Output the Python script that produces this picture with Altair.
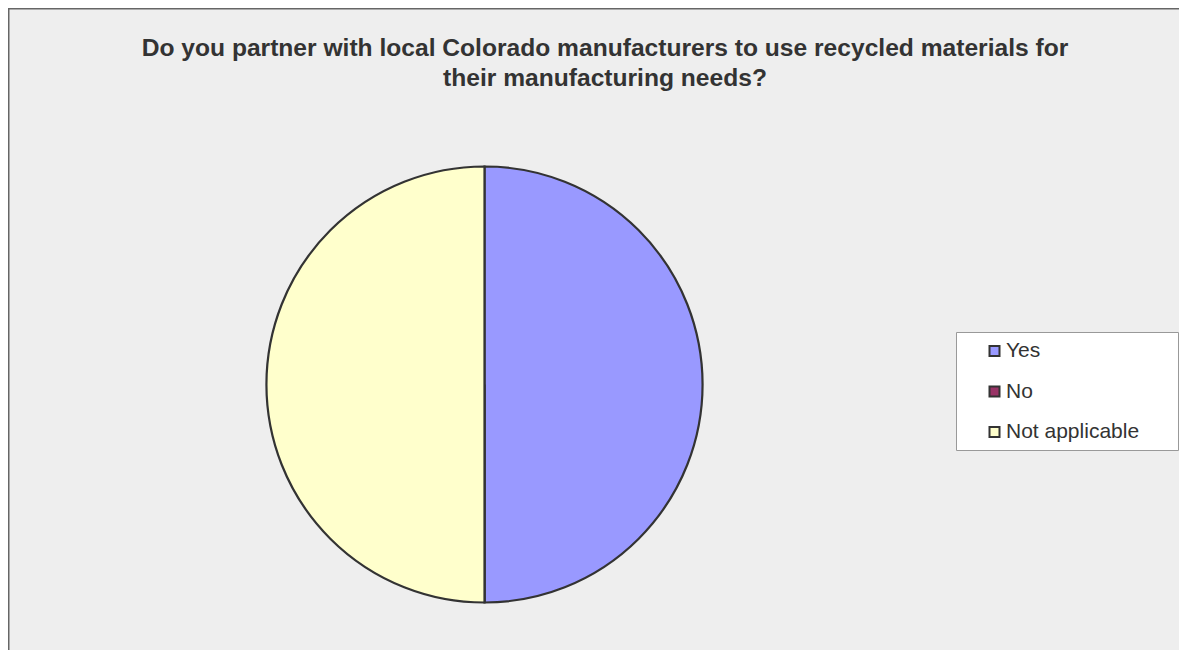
import altair as alt
import pandas as pd

categories = ["Yes", "No", "Not applicable"]
values = [50, 0, 50]
colors = ["#9999FF", "#993366", "#FFFFCC"]
title_lines = [
    "Do you partner with local Colorado manufacturers to use recycled materials for",
    "their manufacturing needs?",
]

df = pd.DataFrame({"category": categories, "value": values, "order": list(range(len(categories)))})
one = pd.DataFrame({"k": [0]})

frame = alt.Chart(one).mark_rect(fill="#EEEEEE", stroke="#666666", strokeWidth=1.5).encode(
    x=alt.value(0.75), y=alt.value(0.75), x2=alt.value(1600), y2=alt.value(1200)
)

legend_box = alt.Chart(one).mark_rect(fill="#FFFFFF", stroke="#999999", strokeWidth=1).encode(
    x=alt.value(948.5), y=alt.value(324.5), x2=alt.value(1170.5), y2=alt.value(442.5)
)

pie = alt.Chart(df).mark_arc(stroke="#333333", strokeWidth=2.2, radius=218).encode(
    theta=alt.Theta("value:Q", stack=True),
    order=alt.Order("order:Q"),
    color=alt.Color(
        "category:N",
        sort=categories,
        scale=alt.Scale(domain=categories, range=colors),
        legend=alt.Legend(
            title=None,
            orient="none",
            legendX=976,
            legendY=332.5,
            padding=0,
            symbolType="square",
            symbolSize=100,
            symbolStrokeColor="#333333",
            symbolStrokeWidth=2,
            symbolOpacity=1,
            labelFont="Liberation Sans",
            labelFontSize=21,
            labelColor="#333333",
            labelOffset=1,
            rowPadding=18.5,
        ),
    ),
    x=alt.value(476.5),
    y=alt.value(376.5),
)

title = alt.Chart(pd.DataFrame({"t": ["\n".join(title_lines)]})).mark_text(
    font="Liberation Sans",
    fontSize=24.6,
    fontWeight="bold",
    color="#333333",
    lineBreak="\n",
    lineHeight=29.5,
    align="center",
    baseline="alphabetic",
).encode(text="t:N", x=alt.value(597), y=alt.value(48))

chart = (
    alt.layer(frame, legend_box, pie, title)
    .properties(width=1171, height=642, autosize=alt.AutoSizeParams(type="none"), padding=0)
    .configure_view(stroke="transparent")
    .configure(background="#EEEEEE")
)

chart.save("out.html", embed_options={"renderer": "svg", "actions": False})
